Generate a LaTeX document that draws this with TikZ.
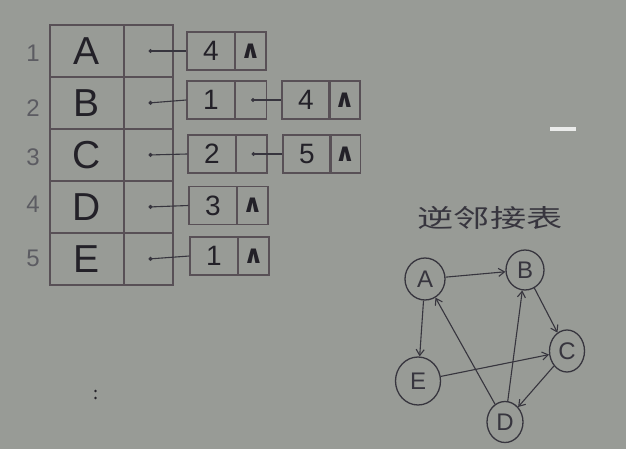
\documentclass[tikz,border=0pt]{standalone}
\usepackage{fontspec}
\setmainfont{Liberation Sans}
\newfontfamily\cjk{Noto Sans CJK SC}
\newfontfamily\dejavu{DejaVu Sans}
\usetikzlibrary{arrows.meta,shapes.geometric}
\definecolor{bg}{RGB}{152,155,150}
\definecolor{ink}{RGB}{35,33,40}
\definecolor{gink}{RGB}{55,53,62}
\definecolor{idx}{RGB}{92,92,98}
\definecolor{cellline}{RGB}{88,80,86}
\begin{document}
\begin{tikzpicture}[x=1pt,y=-1pt,
  every node/.style={inner sep=0pt,text=ink},
  namecell/.style={draw=cellline,line width=1.3pt,minimum width=74pt,minimum height=52pt,font=\fontsize{39}{39}\selectfont},
  ptrcell/.style={draw=cellline,line width=1.3pt,minimum width=49pt,minimum height=52pt},
  idxlabel/.style={text=idx,font=\fontsize{24}{24}\selectfont},
  datacell/.style={draw=cellline,line width=1.3pt,minimum width=48pt,minimum height=38pt,font=\fontsize{28}{28}\selectfont},
  nextcell/.style={draw=cellline,line width=1.3pt,minimum width=31pt,minimum height=38pt,font=\dejavu\bfseries\fontsize{25}{25}\selectfont},
  link/.style={draw=gink,line width=1.1pt,{Circle[length=4pt]}-},
  gnode/.style={ellipse,draw=gink,line width=1.3pt,text=gink,font=\fontsize{24}{24}\selectfont},
  edge/.style={draw=gink,line width=1.1pt,-{Straight Barb[length=6pt,width=8pt]}}
]
\fill[bg] (0,0) rectangle (626,449);
\useasboundingbox (0,0) rectangle (626,449);

% vertex table
\node[namecell] (vA) at (87,51) {A};
\node[namecell] (vB) at (87,103) {B};
\node[namecell] (vC) at (87,155) {C};
\node[namecell] (vD) at (87,207) {D};
\node[namecell] (vE) at (87,259) {E};
\node[ptrcell] (pA) at (148.5,51) {};
\node[ptrcell] (pB) at (148.5,103) {};
\node[ptrcell] (pC) at (148.5,155) {};
\node[ptrcell] (pD) at (148.5,207) {};
\node[ptrcell] (pE) at (148.5,259) {};

% indices
\node[idxlabel] (i1) at (33,53) {1};
\node[idxlabel] (i2) at (33,108) {2};
\node[idxlabel] (i3) at (33,157) {3};
\node[idxlabel] (i4) at (33,204) {4};
\node[idxlabel] (i5) at (33,258) {5};

% list nodes
\node[datacell] (a1) at (211,51) {4};
\node[nextcell] (a1n) at (250.5,51) {∧};
\node[datacell] (b1) at (211,100) {1};
\node[nextcell] (b1n) at (251,100) {};
\node[datacell] (b2) at (306,100) {4};
\node[nextcell] (b2n) at (344.5,100) {∧};
\node[datacell] (c1) at (212,154) {2};
\node[nextcell] (c1n) at (251.5,154) {};
\node[datacell] (c2) at (307,154) {5};
\node[nextcell] (c2n) at (345,154) {∧};
\node[datacell] (d1) at (213,205.5) {3};
\node[nextcell] (d1n) at (252.5,205.5) {∧};
\node[datacell] (e1) at (214,256) {1};
\node[nextcell] (e1n) at (253.5,256) {∧};

% pointers
\draw[link] (pA.center) -- (a1.west);
\draw[link] (pB.center) -- (b1.west);
\draw[link] (pC.center) -- (c1.west);
\draw[link] (pD.center) -- (d1.west);
\draw[link] (pE.center) -- (e1.west);
\draw[link] (b1n.center) -- (b2.west);
\draw[link] (c1n.center) -- (c2.west);

% title
\node[font=\cjk\fontsize{25}{25}\selectfont,xscale=1.45,text=gink] (title) at (490,218) {逆邻接表};

% graph
\node[gnode,minimum width=40pt,minimum height=42pt] (A) at (425,279) {A};
\node[gnode,minimum width=38pt,minimum height=40pt] (B) at (525,270) {B};
\node[gnode,minimum width=35pt,minimum height=42pt] (C) at (567,351) {C};
\node[gnode,minimum width=45pt,minimum height=48pt] (E) at (418,381) {E};
\node[gnode,minimum width=36pt,minimum height=41pt] (D) at (505,422) {D};

\draw[edge] (A) -- (B);
\draw[edge] (A) -- (E);
\draw[edge] (B) -- (C);
\draw[edge] (C) -- (D);
\draw[edge] (D) -- (A);
\draw[edge] (D) -- (B);
\draw[edge] (E) -- (C);

% marks on the board
\fill[white!80!bg] (550,127) rectangle (576,131);
\fill[ink] (95.5,391) circle (1.4);
\fill[ink] (95.5,398) circle (1.4);
\end{tikzpicture}
\end{document}
